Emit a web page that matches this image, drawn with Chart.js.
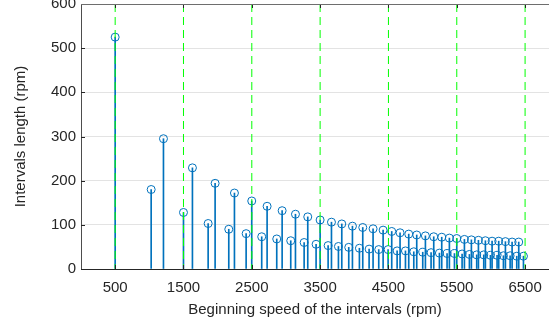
<!DOCTYPE html>
<html>
<head>
<meta charset="utf-8">
<script src="https://cdn.jsdelivr.net/npm/chart.js@4"></script>
<style>
  body { margin: 0; background: #fff; }
  canvas { display: block; }
</style>
</head>
<body>
<canvas id="c" width="549" height="329"></canvas>
<script>
// start speed of each interval (rpm) and its length (rpm)
const speedStart = [
    500, 1027, 1207, 1500, 1631, 1861, 1963, 2163, 2246, 2417,
    2499, 2645, 2724, 2865, 2944, 3070, 3139, 3266, 3319, 3441,
    3500, 3617, 3666, 3768, 3817, 3919, 3973, 4075, 4124, 4217,
    4275, 4358, 4422, 4495, 4548, 4627, 4670, 4749, 4797, 4871,
    4914, 5002, 5041, 5124, 5163, 5246, 5280, 5358, 5392, 5466,
    5500, 5578, 5612, 5685, 5714, 5792, 5817, 5895, 5919, 5993,
    6017, 6090, 6114, 6183, 6212, 6281, 6310, 6378, 6407, 6476
];
const intervalLen = [
    525, 180, 295, 128, 229, 103, 194, 90, 172, 80,
    154, 73, 142, 68, 132, 64, 124, 60, 118, 56,
    111, 53, 106, 51, 102, 49, 97, 47, 94, 45,
    91, 44, 88, 44, 85, 41, 82, 41, 79, 39,
    77, 38, 75, 37, 73, 36, 72, 35, 70, 35,
    69, 34, 67, 33, 66, 32, 65, 32, 64, 31,
    63, 31, 63, 30, 62, 30, 61, 29, 61, 29
];
// green dashed markers
const boundaries = [500, 1500, 2500, 3500, 4500, 5500, 6500];
const xTicks = [500, 1500, 2500, 3500, 4500, 5500, 6500];
const yTicks = [0, 100, 200, 300, 400, 500, 600];

const BLUE = '#0072BD';
const FONT = { family: 'Liberation Sans, Arial, sans-serif', size: 15 };

const points = speedStart.map((s, i) => ({ x: s, y: intervalLen[i] }));
const boundaryPts = [];
boundaries.forEach(b => {
    boundaryPts.push({ x: b, y: 600 }, { x: b, y: 0 }, { x: b, y: null });
});

// MATLAB style inward ticks + box top line
const boxTicks = {
    id: 'boxTicks',
    afterDraw(chart) {
        const { ctx, chartArea: a, scales: { x, y } } = chart;
        ctx.save();
        ctx.lineWidth = 1;
        ctx.strokeStyle = '#262626';
        ctx.beginPath();
        xTicks.forEach(v => {
            const px = Math.round(x.getPixelForValue(v)) + 0.5;
            ctx.moveTo(px, a.bottom); ctx.lineTo(px, a.bottom - 4);
            ctx.moveTo(px, a.top); ctx.lineTo(px, a.top + 4);
        });
        yTicks.forEach(v => {
            const py = Math.round(y.getPixelForValue(v)) + 0.5;
            ctx.moveTo(a.left, py); ctx.lineTo(a.left + 4, py);
        });
        ctx.stroke();
        ctx.strokeStyle = '#6e6e6e';
        ctx.beginPath();
        ctx.moveTo(a.left, Math.round(a.top) + 0.5);
        ctx.lineTo(a.right, Math.round(a.top) + 0.5);
        ctx.stroke();
        ctx.restore();
    }
};

new Chart(document.getElementById('c'), {
    type: 'scatter',
    data: {
        datasets: [
            {
                type: 'line',
                data: boundaryPts,
                borderColor: '#00ff00',
                borderWidth: 1,
                borderDash: [8, 5],
                pointRadius: 0,
                spanGaps: false,
                order: 0
            },
            {
                type: 'scatter',
                data: points,
                borderColor: BLUE,
                backgroundColor: 'rgba(0,0,0,0)',
                borderWidth: 1,
                pointRadius: 4,
                order: 1
            },
            {
                type: 'bar',
                data: points,
                backgroundColor: BLUE,
                barThickness: 1,
                grouped: false,
                order: 2
            }
        ]
    },
    options: {
        responsive: false,
        animation: false,
        devicePixelRatio: 1,
        layout: { autoPadding: false, padding: { top: 4, right: 0, left: 0, bottom: 0 } },
        plugins: { legend: { display: false }, tooltip: { enabled: false } },
        scales: {
            x: {
                type: 'linear',
                offset: false,
                min: 0,
                max: 6850,
                afterBuildTicks: s => { s.ticks = xTicks.map(v => ({ value: v })); },
                afterFit: s => { s.height = 60; s.paddingLeft = 0; s.paddingRight = 0; },
                grid: { display: false, drawTicks: false, offset: false },
                border: { color: '#262626', width: 1 },
                ticks: {
                    color: '#262626', font: FONT, padding: 10, maxRotation: 0, autoSkip: false,
                    callback: v => String(v)
                },
                title: {
                    display: true,
                    text: 'Beginning speed of the intervals (rpm)',
                    color: '#262626',
                    font: FONT,
                    padding: { top: 0, bottom: 10 }
                }
            },
            y: {
                min: 0,
                max: 600,
                afterBuildTicks: s => { s.ticks = yTicks.map(v => ({ value: v })); },
                afterFit: s => { s.width = 81; s.paddingTop = 0; s.paddingBottom = 0; },
                grid: {
                    drawTicks: false,
                    color: ctx => ctx.tick && ctx.tick.value === 600 ? 'rgba(0,0,0,0)' : '#e3e3e3'
                },
                border: { color: '#4d4d4d', width: 1 },
                ticks: { color: '#262626', font: FONT, padding: 5 },
                title: {
                    display: true,
                    text: 'Intervals length (rpm)',
                    color: '#262626',
                    font: FONT,
                    padding: { top: 12, bottom: 0 }
                }
            }
        }
    },
    plugins: [boxTicks]
});
</script>
</body>
</html>
